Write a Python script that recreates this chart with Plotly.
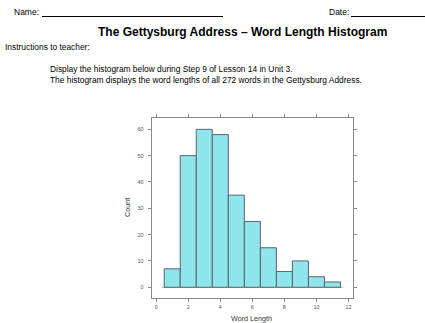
import plotly.graph_objects as go

word_lengths = [1, 2, 3, 4, 5, 6, 7, 8, 9, 10, 11]
counts = [7, 50, 60, 58, 35, 25, 15, 6, 10, 4, 2]
x_ticks = [0, 2, 4, 6, 8, 10, 12]
y_ticks = [0, 10, 20, 30, 40, 50, 60]

W, H = 425, 323
FONT = "Liberation Sans, Arial, sans-serif"
AX = "#8a8a8a"

def px(x):
    return x / W

def py(y):
    return 1 - y / H

fig = go.Figure()
fig.add_trace(go.Bar(
    x=word_lengths, y=counts, width=1,
    marker=dict(color="#8EE5EE", line=dict(color="#5a6468", width=1)),
    hoverinfo="skip",
))

fig.add_shape(type="line", xref="x", yref="y", x0=0.35, x1=11.65, y0=0, y1=0,
              line=dict(color="#aaaaaa", width=1), layer="below")

ax_common = dict(showline=True, linecolor=AX, linewidth=1, mirror="ticks",
                 ticks="outside", ticklen=3, tickcolor=AX, tickwidth=1,
                 showgrid=False, zeroline=False,
                 tickfont=dict(size=5.5, color="#555555", family=FONT))

fig.update_layout(
    width=W, height=H,
    margin=dict(l=0, r=0, t=0, b=0),
    paper_bgcolor="white", plot_bgcolor="white",
    showlegend=False,
    font=dict(family=FONT, color="black"),
    xaxis=dict(domain=[px(151.7), px(353.3)], range=[-0.28, 12.3],
               tickvals=x_ticks, ticktext=[str(v) for v in x_ticks], **ax_common),
    yaxis=dict(domain=[py(298.3), py(118.3)], range=[-4.2, 64.2],
               tickvals=y_ticks, ticktext=[str(v) for v in y_ticks],
               ticklabelstandoff=3, **ax_common),
)

def text(x, y, s, size, anchor="left", bold=False, angle=0, color="black"):
    fig.add_annotation(x=px(x), y=py(y), xref="paper", yref="paper",
                       text=f"<b>{s}</b>" if bold else s, showarrow=False,
                       xanchor=anchor, yanchor="middle", textangle=angle,
                       font=dict(size=size, family=FONT, color=color))

text(12, 12, "Name:", 8.5)
text(327, 12, "Date:", 8.5)
fig.add_shape(type="line", xref="paper", yref="paper", x0=px(42), x1=px(223),
              y0=py(16.5), y1=py(16.5), line=dict(color="black", width=1))
fig.add_shape(type="line", xref="paper", yref="paper", x0=px(351), x1=px(425),
              y0=py(16.5), y1=py(16.5), line=dict(color="black", width=1))
text(242, 32, "The Gettysburg Address \u2013 Word Length Histogram", 12, anchor="center", bold=True)
text(3, 47, "Instructions to teacher:", 8.4)
text(48, 69, "Display the histogram below during Step 9 of Lesson 14 in Unit 3.", 8.4)
text(48, 80, "The histogram displays the word lengths of all 272 words in the Gettysburg Address.", 8.4)

text(252, 318, "Word Length", 7.2, anchor="center", color="#333333")
text(127, 208, "Count", 7.2, anchor="center", angle=-90, color="#333333")

fig.write_html("out.html", config={"displayModeBar": False, "staticPlot": True},
               post_script="document.body.style.margin='0';document.body.style.overflow='hidden';")
